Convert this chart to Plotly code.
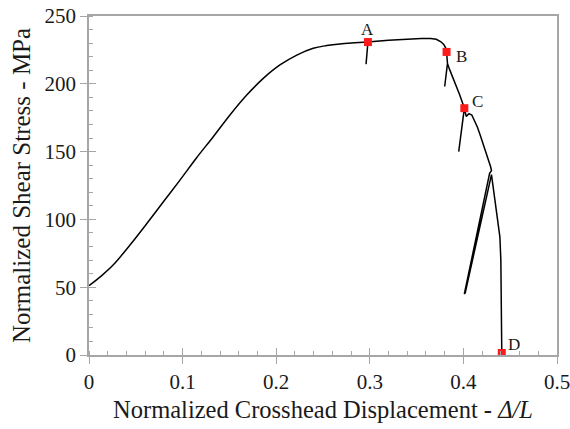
import plotly.graph_objects as go

# Loading branch up to point A (smooth part of the record)
disp_load = [0.0, 0.013, 0.026, 0.044, 0.0616, 0.0795, 0.0972, 0.115, 0.1328, 0.1506,
             0.1685, 0.1862, 0.204, 0.222, 0.2396, 0.254, 0.268, 0.284, 0.298]
stress_load = [51.2, 58.2, 66.5, 81.3, 96.8, 113, 129, 145.5, 161, 177,
               191.7, 204, 213.9, 221.2, 226.2, 228.2, 229.4, 230.2, 230.8]

# Post-peak record, including partial unload/reload loops
disp_post = [0.298, 0.296, 0.298,
             0.32, 0.34, 0.355, 0.365, 0.371, 0.376, 0.379, 0.381, 0.382, 0.383,
             0.380, 0.383,
             0.385, 0.388, 0.392, 0.396, 0.399, 0.401,
             0.395, 0.401,
             0.403, 0.406, 0.409, 0.412, 0.415, 0.418, 0.421, 0.424, 0.427, 0.429, 0.430, 0.428,
             0.401, 0.402, 0.430,
             0.431, 0.434, 0.437, 0.439, 0.440, 0.4405, 0.441]
stress_post = [230.8, 214.5, 230.8,
               232.2, 233.0, 233.4, 233.4, 232.8, 231, 229, 226.5, 223.5, 215,
               198, 215,
               211, 206, 200, 192, 186, 182,
               150, 182,
               176, 178, 177, 173, 168, 162, 156, 149, 143, 139, 136, 134,
               45, 46, 133,
               128, 112, 99, 87, 70, 40, 1.5]

# Labelled points
pt_labels = ["A", "B", "C", "D"]
pt_disp = [0.298, 0.382, 0.401, 0.441]
pt_stress = [230.8, 223.5, 182, 1.5]
label_dx = [0, 7, 6, 4]
label_dy = [13, -5, 7, 8]
label_anchor = ["center", "left", "left", "left"]

x_ticks = [0, 0.1, 0.2, 0.3, 0.4, 0.5]
x_ticktext = ["0", "0.1", "0.2", "0.3", "0.4", "0.5"]
y_ticks = [0, 50, 100, 150, 200, 250]

AX = "#a6a6a6"
FONT = "Liberation Serif, Times New Roman, serif"
TXT = "#1a1a1a"

fig = go.Figure()
fig.add_trace(go.Scatter(x=disp_load, y=stress_load, mode="lines",
                         line=dict(color="black", width=1.5, shape="spline", smoothing=1.0),
                         showlegend=False))
fig.add_trace(go.Scatter(x=disp_post, y=stress_post, mode="lines",
                         line=dict(color="black", width=1.5), showlegend=False))
fig.add_trace(go.Scatter(x=pt_disp, y=pt_stress, mode="markers",
                         marker=dict(symbol="square", size=8, color="#ff1a1a"),
                         showlegend=False))
for t, xv, yv, dx, dy, an in zip(pt_labels, pt_disp, pt_stress, label_dx, label_dy, label_anchor):
    fig.add_annotation(x=xv, y=yv, text=t, showarrow=False, xshift=dx, yshift=dy,
                       xanchor=an, yanchor="middle",
                       font=dict(family=FONT, size=17, color=TXT))

fig.update_layout(
    width=570, height=429,
    margin=dict(l=89, r=13, t=16, b=74),
    paper_bgcolor="white", plot_bgcolor="white",
    font=dict(family=FONT, color=TXT),
    xaxis=dict(range=[0, 0.5], tickvals=x_ticks, ticktext=x_ticktext,
               showgrid=False, zeroline=False, automargin=False, ticklabeloverflow="allow",
               showline=True, linecolor=AX, linewidth=1.5, mirror=True,
               ticks="outside", ticklen=7, tickcolor=AX, tickwidth=1,
               minor=dict(dtick=0.02, ticks="inside", ticklen=4, tickcolor=AX, showgrid=False),
               tickfont=dict(family=FONT, size=21, color=TXT),
               title=dict(text="Normalized Crosshead Displacement - <i>Δ/L</i>",
                          font=dict(family=FONT, size=24.5, color=TXT), standoff=8)),
    yaxis=dict(range=[0, 250], tickvals=y_ticks,
               showgrid=False, zeroline=False, automargin=False, ticklabeloverflow="allow",
               showline=True, linecolor=AX, linewidth=1.5, mirror=True,
               ticks="outside", ticklen=7, tickcolor=AX, tickwidth=1,
               minor=dict(dtick=10, ticks="inside", ticklen=4, tickcolor=AX, showgrid=False),
               tickfont=dict(family=FONT, size=21, color=TXT),
               title=dict(text="Normalized Shear Stress - MPa",
                          font=dict(family=FONT, size=25, color=TXT), standoff=7)),
    xaxis2=dict(range=[0, 0.5], overlaying="x", tickvals=x_ticks, showticklabels=False,
                ticks="inside", ticklen=7, tickcolor=AX, showgrid=False, zeroline=False,
                showline=False, side="bottom", automargin=False),
    yaxis2=dict(range=[0, 250], overlaying="y", tickvals=y_ticks, showticklabels=False,
                ticks="inside", ticklen=7, tickcolor=AX, showgrid=False, zeroline=False,
                showline=False, side="left", automargin=False),
)
# invisible trace to activate overlay axes
fig.add_trace(go.Scatter(x=[0], y=[0], xaxis="x2", yaxis="y2", mode="markers",
                         marker=dict(opacity=0), showlegend=False, hoverinfo="skip"))

fig.write_html("out.html", config={"displayModeBar": False},
               post_script="document.body.style.margin='0';document.body.style.overflow='hidden';")
